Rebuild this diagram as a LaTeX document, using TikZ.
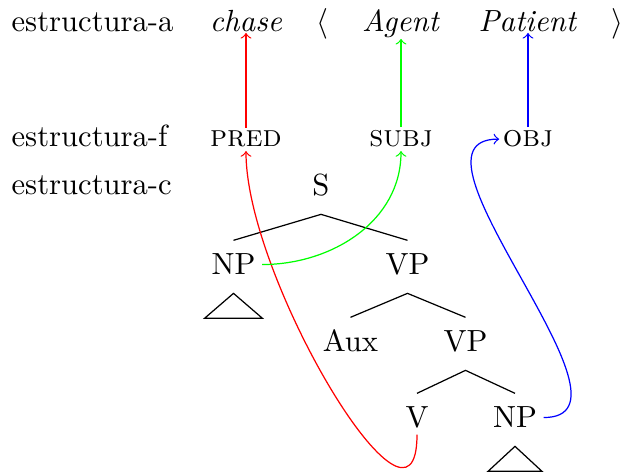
\documentclass[tikz,border=0pt]{standalone}
\colorlet{pred link}{red}
\colorlet{subj link}{green}
\colorlet{obj link}{blue}
\tikzstyle{level label} = [%
	inner sep=0pt,
	anchor=base west
]
\tikzstyle{a item} = [%
	inner sep=0pt,
	anchor=base
]
\tikzstyle{f item} = [%
	inner sep=1pt,
	anchor=base
]
\tikzstyle{tree node} = [%
	inner sep=2pt,
	anchor=base,
	text height=6.83pt,
	text depth=0pt
]
\tikzstyle{branch} = [thin, black]
\tikzstyle{triangle} = [thin, black]
\tikzset{every edge/.append style={
	->,
	thin
}}

\begin{document}
\begin{tikzpicture}[x=0.3268pt, y=0.3268pt]
\useasboundingbox (0,0) rectangle (622,-472);

% level labels
\node[level label] (a label) at (11,-32) {estructura-a};
\node[level label] (f label) at (11,-147) {estructura-f};
\node[level label] (c label) at (11,-195) {estructura-c};

% argument structure
\node[a item] (chase) at (246,-32) {\textit{chase}};
\node[a item] (open) at (322,-32) {$\langle$};
\node[a item] (agent) at (401,-32) {\textit{Agent}};
\node[a item] (patient) at (528,-32) {\textit{Patient}};
\node[a item] (close) at (617,-32) {$\rangle$};

% functional structure
\node[f item] (pred) at (246,-147) {\textsc{pred}};
\node[f item] (subj) at (401,-147) {\textsc{subj}};
\node[f item] (obj) at (528,-147) {\textsc{obj}};

% constituent structure
\begin{scope}
	\node[tree node] (s) at (321,-196) {S};
	\node[tree node] (np1) at (233.5,-275) {NP};
	\node[tree node] (vp1) at (407.5,-275) {VP};
	\node[tree node] (aux) at (350.5,-352) {Aux};
	\node[tree node] (vp2) at (465.5,-352) {VP};
	\node[tree node] (v) at (417,-428) {V};
	\node[tree node] (np2) at (515,-428) {NP};
	\draw[branch] ([yshift=2.3pt] np1.north) -- ([yshift=-3.8pt] s.south) -- ([yshift=2.3pt] vp1.north);
	\draw[branch] ([yshift=2.3pt] aux.north) -- ([yshift=-3.8pt] vp1.south) -- ([yshift=2.3pt] vp2.north);
	\draw[branch] ([yshift=2.3pt] v.north) -- ([yshift=-3.8pt] vp2.south) -- ([yshift=2.3pt] np2.north);
	\draw[triangle] ([yshift=-3.8pt] np1.south) -- ++(-29,-25) -- ++(58,0) -- cycle;
	\draw[triangle] ([yshift=-3.8pt] np2.south) -- ++(-27,-25) -- ++(54,0) -- cycle;
\end{scope}

% correspondences
\path (v.south) edge[pred link, out=-90, in=-90] (pred.south)
      (pred.north) edge[pred link] (chase.south);
\path (np1.east) edge[subj link, out=0, in=-90] (subj.south)
      (subj.north) edge[subj link] (agent.south);
\path (np2.east) edge[obj link, out=0, in=180] (obj.west)
      (obj.north) edge[obj link] (patient.south);

\end{tikzpicture}
\end{document}
